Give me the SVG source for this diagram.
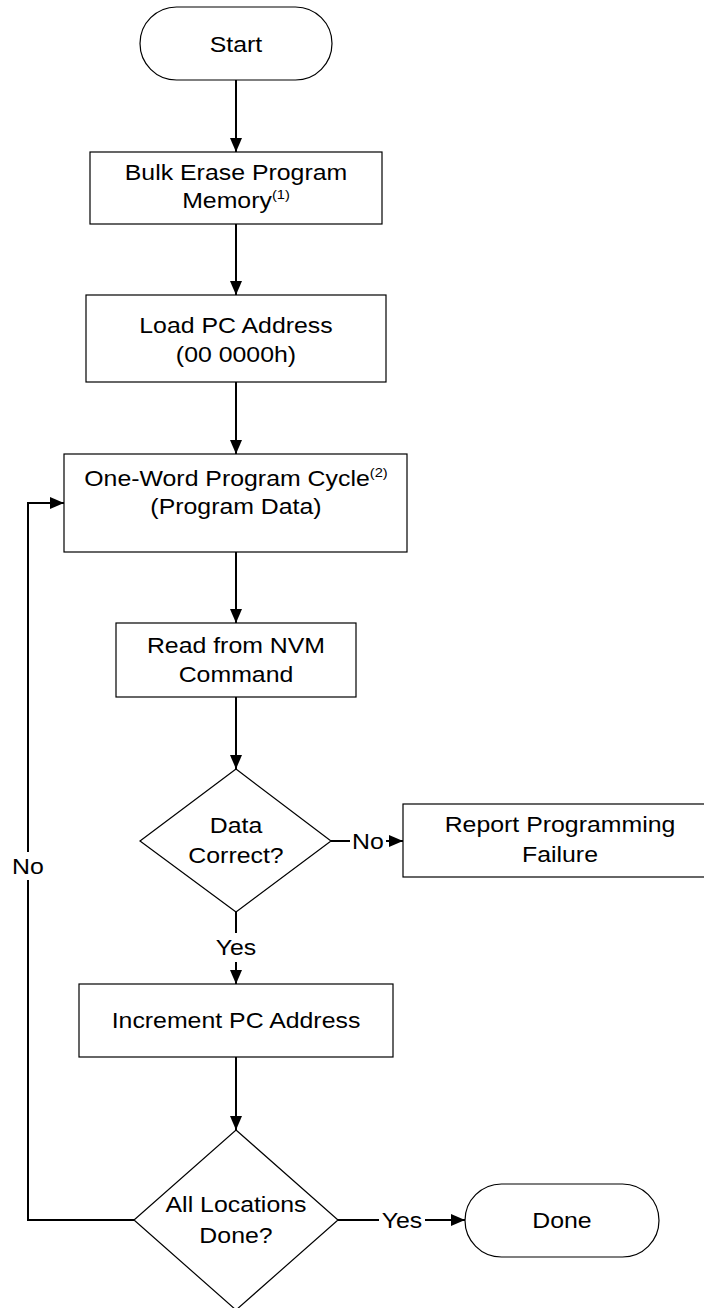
<svg xmlns="http://www.w3.org/2000/svg" width="704" height="1308" viewBox="0 0 704 1308">
<defs>
<style>
.shape{fill:#fff;stroke:#000;stroke-width:1.2}
.conn{fill:none;stroke:#000;stroke-width:2}
.t{font-family:"Liberation Sans",Arial,sans-serif;font-size:22px;fill:#000;text-anchor:middle}
.sup{font-size:13px}
</style>
<marker id="ah" viewBox="0 0 14 12" refX="14" refY="6" markerWidth="14" markerHeight="12" markerUnits="userSpaceOnUse" orient="auto">
<path d="M0,0 L14,6 L0,12 Z" fill="#000"/>
</marker>
</defs>
<rect width="704" height="1308" fill="#fff"/>

<g id="connectors">
<path class="conn" d="M236 80 V152" marker-end="url(#ah)"/>
<path class="conn" d="M236 224 V295" marker-end="url(#ah)"/>
<path class="conn" d="M236 382 V454" marker-end="url(#ah)"/>
<path class="conn" d="M236 552 V623" marker-end="url(#ah)"/>
<path class="conn" d="M236 697 V769" marker-end="url(#ah)"/>
<path class="conn" d="M331 841 H350"/>
<path class="conn" d="M386 841 H403" marker-end="url(#ah)"/>
<path class="conn" d="M236 912 V933"/>
<path class="conn" d="M236 962 V984" marker-end="url(#ah)"/>
<path class="conn" d="M236 1057 V1130" marker-end="url(#ah)"/>
<path class="conn" d="M338 1220 H379"/>
<path class="conn" d="M425 1220 H465" marker-end="url(#ah)"/>
<path class="conn" d="M134 1220 H28 V503 H64" marker-end="url(#ah)"/>
<rect x="10" y="852" width="36" height="28" fill="#fff"/>
<text class="t" x="28" y="874" transform="matrix(1.13 0 0 1 -3.64 0)">No</text>
<text class="t" x="368" y="849" transform="matrix(1.13 0 0 1 -47.84 0)">No</text>
<text class="t" x="236" y="955" transform="matrix(1.13 0 0 1 -30.68 0)">Yes</text>
<text class="t" x="402" y="1228" transform="matrix(1.13 0 0 1 -52.26 0)">Yes</text>
</g>

<g id="start">
<rect class="shape" x="140" y="7" width="192" height="73" rx="36.5" ry="36.5"/>
<text class="t" x="236" y="52" transform="matrix(1.13 0 0 1 -30.68 0)">Start</text>
</g>

<g id="bulk-erase">
<rect class="shape" x="90" y="152" width="292" height="72"/>
<text class="t" x="236" y="180" transform="matrix(1.13 0 0 1 -30.68 0)">Bulk Erase Program</text>
<text class="t" x="236" y="208" transform="matrix(1.13 0 0 1 -30.68 0)">Memory<tspan class="sup" dy="-9">(1)</tspan></text>
</g>

<g id="load-pc">
<rect class="shape" x="86" y="295" width="300" height="87"/>
<text class="t" x="236" y="333" transform="matrix(1.13 0 0 1 -30.68 0)">Load PC Address</text>
<text class="t" x="236" y="362" transform="matrix(1.13 0 0 1 -30.68 0)">(00 0000h)</text>
</g>

<g id="program-cycle">
<rect class="shape" x="64" y="454" width="343" height="98"/>
<text class="t" x="236" y="486" transform="matrix(1.13 0 0 1 -30.68 0)">One-Word Program Cycle<tspan class="sup" dy="-9">(2)</tspan></text>
<text class="t" x="236" y="514" transform="matrix(1.13 0 0 1 -30.68 0)">(Program Data)</text>
</g>

<g id="read-nvm">
<rect class="shape" x="116" y="623" width="240" height="74"/>
<text class="t" x="236" y="653" transform="matrix(1.13 0 0 1 -30.68 0)">Read from NVM</text>
<text class="t" x="236" y="682" transform="matrix(1.13 0 0 1 -30.68 0)">Command</text>
</g>

<g id="data-correct">
<polygon class="shape" points="236,769 331,841 236,912 140,841"/>
<text class="t" x="236" y="833" transform="matrix(1.13 0 0 1 -30.68 0)">Data</text>
<text class="t" x="236" y="863" transform="matrix(1.13 0 0 1 -30.68 0)">Correct?</text>
</g>

<g id="report-failure">
<rect class="shape" x="403" y="804" width="314" height="73"/>
<text class="t" x="560" y="832" transform="matrix(1.13 0 0 1 -72.8 0)">Report Programming</text>
<text class="t" x="560" y="862" transform="matrix(1.13 0 0 1 -72.8 0)">Failure</text>
</g>

<g id="increment-pc">
<rect class="shape" x="79" y="984" width="314" height="73"/>
<text class="t" x="236" y="1028" transform="matrix(1.13 0 0 1 -30.68 0)">Increment PC Address</text>
</g>

<g id="all-done">
<polygon class="shape" points="236,1130 338,1220 236,1310 134,1220"/>
<text class="t" x="236" y="1212" transform="matrix(1.13 0 0 1 -30.68 0)">All Locations</text>
<text class="t" x="236" y="1243" transform="matrix(1.13 0 0 1 -30.68 0)">Done?</text>
</g>

<g id="done">
<rect class="shape" x="465" y="1184" width="194" height="73" rx="36.5" ry="36.5"/>
<text class="t" x="562" y="1228" transform="matrix(1.13 0 0 1 -73.06 0)">Done</text>
</g>
</svg>
